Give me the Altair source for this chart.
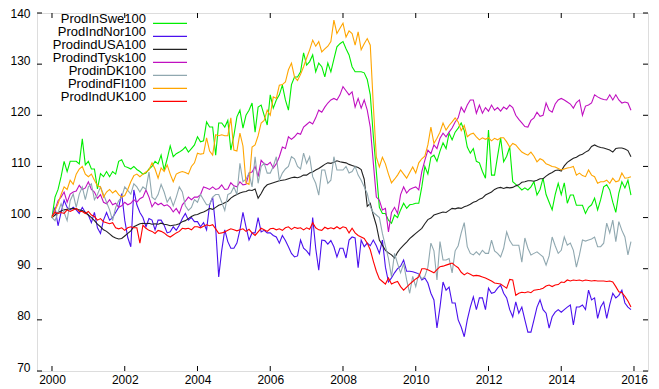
import altair as alt
import pandas as pd

series_names = ["ProdInSwe100", "ProdIndNor100", "ProdindUSA100", "ProdindTysk100",
                "ProdinDK100", "ProdindFI100", "ProdIndUK100"]
series_colors = ["#00ee00", "#4a10ee", "#222222", "#c010c0", "#90a8b0", "#ffa500", "#ff0000"]

start_year = 2000
n_years = 16

swe = [
    100, 104, 105.5, 108, 111, 109, 111, 111, 111, 110.5, 115.4, 110.3,
    111, 109.5, 109.5, 105.6, 108.6, 108, 109, 108, 109, 108.5, 111, 111.3,
    110, 109.8, 109.5, 110, 109.4, 109, 108.5, 108.7, 109.5, 110, 111, 110.5,
    112.2, 109.3, 111.5, 114, 111.9, 112.5, 112.8, 113.2, 113.8, 112.8, 113.5, 114.2,
    115.8, 114.8, 115, 118.7, 117.7, 117.7, 112.2, 118.5, 118.5, 117.7, 119, 113.2,
    116, 119.7, 121, 117.5, 120, 121, 122.4, 116.7, 121.6, 122, 120, 118.1,
    124, 121.4, 123, 124, 125.9, 123, 121, 126, 127.5, 127.5, 128.5, 132.2,
    129.8, 130.5, 131.8, 128.5, 130.2, 129.5, 127.5, 130.2, 128.5, 131, 133.4, 134,
    134.4, 133, 131.8, 129.5, 128.5, 128.5, 128.5, 128.3, 127, 124, 116, 109,
    102, 100.8, 100.8, 99.5, 98.9, 100.5, 100, 101.5, 102.8, 101.8, 102.5, 102.6,
    102.8, 102.8, 106, 110, 108.5, 111.8, 112.2, 111, 113, 114.6, 113.5, 116.5,
    115.2, 116.7, 117.5, 118.5, 117, 113.8, 112.6, 113.5, 111, 110.7, 109, 107.7,
    117.1, 108.3, 108.3, 112, 115.6, 110.9, 112, 113.8, 107, 106.5, 106, 105.4,
    105.8, 105.4, 106, 107, 104.4, 105.5, 107.7, 104.5, 103, 101.5, 104.5, 106.7,
    104.5, 106.8, 102.8, 104.4, 104.4, 102.4, 102.4, 102.4, 100.8, 102, 102.5, 103.8,
    101.5, 103.5, 106, 106.4, 105.4, 103, 101, 104.8, 107, 105.8, 107.3, 104.4,
]

nor = [
    100, 102, 98.4, 101, 103.4, 102, 101.5, 102, 101.5, 100.8, 102, 101,
    100.5, 99, 101, 98, 96.9, 99.5, 101, 99.5, 100, 101, 102, 104.7,
    99.5, 96.1, 94.3, 105.4, 102.5, 101, 100, 98.2, 99.8, 99.5, 97.6, 99.5,
    99.5, 98.5, 97, 97.2, 98.2, 97.5, 98.5, 99.8, 100.8, 99.5, 100, 99.2,
    99.2, 98.2, 99, 97.6, 102.5, 104, 98, 88.4, 93.6, 97.6, 95.3, 94,
    94, 95, 97.6, 101, 98.2, 95.6, 97, 97, 100, 97.2, 97.5, 97,
    97, 96.5, 96.2, 95, 96.5, 95.5, 94.3, 93, 92.3, 92.5, 95.6, 94,
    93.5, 92.7, 100, 94, 89.7, 95.6, 95.5, 94.8, 95.5, 94.3, 92.3, 94,
    94, 92.1, 95.6, 96.2, 96, 90.2, 95.6, 94.3, 95, 94.5, 95.6, 94.5,
    93, 95.6, 90.3, 87.4, 88.2, 89.2, 90, 90.5, 91.7, 89.5, 89.5, 89.4,
    89.2, 89, 87.8, 88.2, 87.2, 85.2, 83.9, 78.4, 82.5, 87.4, 85.8, 86.4,
    83.3, 83.3, 80, 78.6, 76.7, 80, 82.5, 84.5, 82, 84.3, 84.3, 82,
    86.2, 85.2, 85.4, 86.2, 86.8, 85.2, 84.3, 82, 80.6, 83.5, 81.3, 82.5,
    80, 77.6, 77.6, 80, 82.5, 83.9, 82, 81.3, 78.4, 80.6, 81.5, 82,
    81.5, 82, 82.5, 82.9, 79, 82.5, 82.5, 82.9, 82, 85.8, 83.9, 84.3,
    80.3, 82.5, 83.5, 80.3, 83, 85.2, 84.3, 84.8, 85.8, 83.3, 82.5, 82,
]

usa = [
    100, 100.5, 101, 101.3, 101.5, 101.6, 101.7, 101.8, 101.7, 101.5, 101.4, 101,
    100.5, 100, 99.4, 98.7, 98.2, 97.6, 97.3, 96.8, 96.3, 96, 95.8, 95.9,
    96.4, 96.9, 97.4, 98.2, 98.5, 98.8, 98.9, 98.8, 98.9, 98.7, 98.8, 98.7,
    98.9, 98.7, 98.6, 98.4, 98.5, 98.6, 98.8, 99.2, 99.4, 99.8, 100.2, 100.5,
    100.6, 100.9, 101.1, 101.4, 101.8, 101.6, 102, 102.4, 102.6, 102.9, 103.2, 103.8,
    104.2, 104.5, 104.8, 105, 105.1, 105.4, 105.3, 105.6, 103.8, 104.7, 105.8, 106.4,
    106.6, 106.8, 107, 107.2, 107.3, 107.4, 107.6, 107.8, 107.9, 107.8, 108, 108.3,
    108.3, 108.7, 108.9, 109.3, 109.6, 110, 110.4, 110.7, 110.6, 110.8, 111.1, 110.9,
    110.8, 110.7, 110.4, 110.2, 110, 109.8, 109.4, 107.5, 102.2, 102.8, 100.5, 98.5,
    95.6, 94.6, 93.6, 93.1, 92.7, 92.1, 93.2, 94, 94.6, 95.2, 95.9, 96.4,
    96.9, 97.4, 97.9, 98.8, 99.6, 99.9, 100.5, 100.7, 100.9, 101.1, 101, 101.4,
    101.8, 101.7, 101.9, 101.8, 102.1, 102.3, 102.6, 103, 103.2, 103.6, 103.8, 104.4,
    104.7, 105, 105.5, 105.8, 105.9, 105.7, 105.9, 105.8, 105.9, 106.2, 106.4, 106.9,
    107, 107.2, 107.2, 107.1, 107.3, 107.6, 107.6, 108.1, 108.5, 108.8, 109.2, 109.3,
    109.1, 110.1, 110.8, 111.2, 111.6, 111.8, 112.2, 112.4, 112.8, 113.1, 113.9, 114.2,
    113.9, 113.7, 113.6, 113.4, 113.2, 112.8, 113.5, 113.6, 113.6, 113.4, 113.1, 111.9,
]

tysk = [
    100, 101.5, 103.3, 104, 105, 103, 104.6, 105, 105.2, 106.3, 105.5, 105.8,
    107, 105.5, 105, 103.8, 104.5, 103, 102.7, 103.5, 102.5, 102.8, 102, 102.3,
    103, 102.5, 102.8, 103.5, 103, 103.7, 104, 105.4, 104, 102.1, 103, 102.5,
    102.8, 102.3, 102.5, 102, 101.1, 101.8, 100.8, 102.5, 103.2, 104, 103.5, 104,
    104, 104.5, 106, 105.8, 105.5, 106, 105.5, 105.7, 106.4, 105.5, 105.6, 106.8,
    106.2, 106, 107, 106.4, 106.5, 108.7, 108.9, 110, 108, 111.2, 110.5, 110.3,
    110.8, 109.7, 110.5, 111.9, 113.8, 113.5, 115.8, 115.3, 115.8, 116.5, 116.3, 117.7,
    118.2, 118.7, 118.3, 119.5, 121, 120.6, 121.6, 122.4, 123, 123.3, 123, 124,
    125.6, 124.8, 124, 124.6, 121.6, 123.3, 121.4, 123, 121, 117.7, 110.7, 104,
    103.4, 101.5, 101.8, 97.2, 101, 102, 100.8, 104.5, 106, 104.8, 105.5, 105.8,
    106, 105.4, 109, 111.2, 113.2, 112.5, 114.2, 113.5, 115.5, 116.5, 115.8, 116.7,
    117.5, 118.7, 119.5, 121.6, 120.6, 122, 123, 123, 120.4, 122, 120.4, 121.5,
    120.8, 122, 121, 121.5, 120.8, 121.6, 121.2, 122, 121.5, 120, 119.2, 118.5,
    117.8, 117.7, 119, 119.5, 120.6, 119.8, 120, 122.4, 121, 120.6, 122.2, 123,
    123.3, 123, 122.6, 122.2, 121.4, 122.5, 123, 120, 121.8, 122, 122.4, 124,
    123.6, 123.3, 123.1, 123, 124, 123, 124, 123, 122.4, 122.6, 122.4, 121,
]

dk = [
    100, 99.4, 101, 102.7, 101, 99.4, 103.3, 104.6, 102, 104.6, 106, 103.5,
    106, 106.6, 103.5, 104.5, 106, 104.5, 103, 101.5, 99.4, 102, 103.3, 104,
    106, 105.3, 104.6, 106.6, 106, 105, 106, 105.5, 108.9, 104, 103.5, 104.5,
    106.5, 105, 103, 104, 102.3, 104, 106, 105, 102.3, 101.4, 102, 103.5,
    103, 104.5, 103.5, 102.5, 102.5, 104, 104.5, 104.5, 103, 101.4, 104.5, 104.8,
    106, 104.5, 110.6, 107, 107.5, 108.7, 106, 111.9, 106.7, 110, 110.6, 108.7,
    108.7, 110, 111.9, 107.3, 108.7, 109.5, 110, 111.9, 111.5, 110, 109.5, 112.6,
    110.6, 111.9, 108, 106.7, 104.4, 109.3, 109.3, 106.7, 107.3, 111.9, 109.3, 109.3,
    109.3, 110, 108.7, 109, 110, 108.3, 107.3, 106, 104.7, 102.1, 101, 100.5,
    100, 96.9, 94.4, 92, 88.4, 93, 91, 89.2, 91, 87.8, 85.2, 88.5,
    86.5, 89, 88, 88.5, 90.3, 95, 93.5, 87.8, 95.3, 91.7, 91.7, 92,
    89.2, 93.5, 94.5, 97, 99, 94.3, 93, 92.7, 93.3, 92.7, 93.6, 93,
    93, 95.6, 93.5, 93, 92.3, 94, 97.2, 95.5, 94.6, 94.6, 94.6, 91.3,
    96, 94, 92.7, 93, 93.3, 92.8, 92.3, 90.7, 92.5, 96.2, 94.5, 93,
    93.6, 96.2, 94.6, 95, 93.6, 90.3, 92.7, 95.6, 95.4, 95.6, 95.8, 96.2,
    94.3, 94.3, 95, 98.9, 97, 99.5, 95.3, 99.2, 97.5, 96.2, 92.7, 95.3,
]

fi = [
    100, 101.4, 102.7, 104.5, 106, 105.5, 107.3, 106.5, 108.5, 109.5, 110, 108.5,
    108, 108.5, 107.3, 106.2, 106, 104, 105, 105.5, 104.8, 105.3, 104.5, 104,
    104.3, 105.5, 107, 108.2, 108.5, 108, 108.5, 108.9, 109.3, 110.7, 109.5, 107.7,
    109.7, 109, 110.3, 108.5, 107, 108.5, 108.8, 109, 108.8, 108.5, 110, 110.7,
    112.6, 112.4, 112.5, 115.6, 113, 112.2, 116.2, 116, 116.2, 116, 116, 119.5,
    113.2, 113, 116.5, 114, 106.8, 106.5, 113.8, 114.2, 116, 118.5, 119, 121,
    120, 123.6, 123.3, 125.9, 126, 126.5, 128.9, 130.2, 127.5, 126.8, 128, 129.5,
    131.2, 132.8, 134.7, 133.5, 134.4, 132.4, 133, 133.5, 134.4, 138.6, 136, 137,
    138, 135.3, 136.5, 136, 133.7, 136.3, 132.8, 134, 135, 133.7, 122, 111.8,
    109.9, 111.8, 110.5, 108.5, 106.8, 107.5, 108.3, 109.3, 108.5, 107.7, 108.8, 109.9,
    108.7, 110.7, 111.5, 112, 114.2, 117.7, 114.5, 115.5, 116.7, 118.5, 117.1, 118,
    118.7, 119.5, 118.7, 117, 118, 115.8, 116.3, 116.5, 115.8, 115.2, 115.6, 115.3,
    115.6, 115, 115.5, 115.2, 115.6, 115.6, 114.8, 113.8, 114.5, 114.2, 113.5, 112.8,
    112.5, 112.2, 112.8, 112, 110.9, 111.5, 111.2, 110.5, 110.3, 110, 109.9, 109.6,
    109.3, 109.5, 109.7, 109.8, 110, 108.3, 108.7, 108.2, 108, 109.3, 108.3, 108,
    106.7, 107, 107, 107.3, 106.7, 107.7, 107, 107.2, 108.7, 107.7, 107.8, 108,
]

uk = [
    100.3, 101, 100.8, 101, 100.8, 101.5, 101.2, 101.5, 101.8, 101.2, 101.2, 100.8,
    101.2, 100.5, 100.2, 99.5, 99.8, 99.2, 99, 98.8, 99, 98, 97.8, 98,
    97.5, 98, 98.2, 98, 98, 95, 98.5, 97.9, 97.5, 97.3, 96.9, 97.5,
    97.3, 97, 96.5, 96.2, 96.6, 97, 97.3, 97.9, 97.8, 97.9, 97.6, 98.2,
    98.2, 98, 98.3, 98.6, 98.4, 98.6, 97.8, 96.9, 97, 97.2, 97.5, 97.8,
    97.6, 97.4, 97.6, 97.8, 97.3, 97.7, 97, 96.5, 97.2, 97.9, 97.6, 97.3,
    97.8, 97.9, 97.6, 97.8, 97.5, 98, 98.2, 97.7, 98.1, 97.9, 98, 97.6,
    98, 97.7, 99, 98, 97.6, 97.5, 98.1, 97.8, 98, 97.8, 98.2, 97.8,
    98.2, 98, 97, 97.9, 97, 96.5, 96.2, 95.9, 95, 93.7, 91.5, 89.5,
    88, 87.5, 87, 88.2, 87, 87.3, 87.5, 86.5, 85.8, 86.4, 87, 87.5,
    88, 88.4, 90, 90, 89.8, 89.5, 89.2, 89.8, 90.4, 90.5, 90.7, 90.9,
    91.1, 90.6, 90.2, 89.3, 88.8, 89.2, 88.9, 88.6, 88.7, 88.6, 88.4, 88.2,
    87.9, 87.6, 87.2, 87.1, 87, 86.6, 86.2, 87.9, 87.8, 84.8, 85.2, 85.4,
    85.3, 85.5, 85.3, 85.8, 85.9, 86, 86.2, 86.6, 86.8, 86.5, 86.8, 86.9,
    87.4, 87.3, 87.8, 87.6, 87.8, 87.7, 87.8, 87.6, 87.8, 87.7, 87.6, 87.7,
    87.6, 87.6, 87.6, 87.5, 87.6, 87.4, 86.5, 85.5, 85.3, 84.6, 83.7, 82.5,
]

x_ticks = [2000, 2002, 2004, 2006, 2008, 2010, 2012, 2014, 2016]
y_ticks = [70, 80, 90, 100, 110, 120, 130, 140]

all_values = [swe, nor, usa, tysk, dk, fi, uk]
rows = []
for name, vals in zip(series_names, all_values):
    for i, v in enumerate(vals):
        rows.append({"series": name, "t": start_year + i / 12.0, "value": v})
df = pd.DataFrame(rows)

W, H = 611, 358
FONT = "Liberation Sans"

xscale = alt.Scale(domain=[1999.588, 2016.385], nice=False, zero=False)
yscale = alt.Scale(domain=[70, 140], nice=False, zero=False)
cscale = alt.Scale(domain=series_names, range=series_colors)

x_axis = alt.Axis(values=x_ticks, format="d", grid=False, ticks=False, tickSize=0,
                  domain=False, labelFontSize=12, labelFont=FONT, labelColor="black",
                  labelPadding=3, title=None, labelFlush=False)
y_axis = alt.Axis(values=y_ticks, format="d", grid=False, ticks=False, tickSize=0,
                  domain=False, labelFontSize=12, labelFont=FONT, labelColor="black",
                  labelPadding=7,
                  labelBaseline={"condition": {"test": "datum.value >= 140", "value": "middle"},
                                 "value": "alphabetic"},
                  title=None, labelFlush=False)

base = alt.Chart(df)
line_layers = []
for name in series_names:
    line_layers.append(
        base.transform_filter(alt.datum.series == name)
        .mark_line(strokeWidth=1.1, clip=True)
        .encode(x=alt.X("t:Q", scale=xscale, axis=x_axis),
                y=alt.Y("value:Q", scale=yscale, axis=y_axis),
                color=alt.Color("series:N", scale=cscale, legend=None))
    )

xt = alt.Chart(pd.DataFrame({"t": x_ticks}))
yt = alt.Chart(pd.DataFrame({"value": y_ticks}))
tick_len = 5
ticks = [
    xt.mark_rule(color="black", strokeWidth=1).encode(
        x=alt.X("t:Q", scale=xscale, axis=x_axis), y=alt.value(H), y2=alt.value(H - tick_len)),
    xt.mark_rule(color="black", strokeWidth=1).encode(
        x=alt.X("t:Q", scale=xscale, axis=x_axis), y=alt.value(0), y2=alt.value(tick_len)),
    yt.mark_rule(color="black", strokeWidth=1).encode(
        y=alt.Y("value:Q", scale=yscale, axis=y_axis), x=alt.value(0), x2=alt.value(tick_len)),
    yt.mark_rule(color="black", strokeWidth=1).encode(
        y=alt.Y("value:Q", scale=yscale, axis=y_axis), x=alt.value(W - tick_len), x2=alt.value(W)),
]

main = alt.layer(*line_layers, *ticks)

leg_df = pd.DataFrame({"series": series_names, "rank": list(range(len(series_names)))})
leg_scale = alt.Scale(domain=[0, 6], range=[10.3, 88.3], nice=False, zero=False)
leg = alt.Chart(leg_df)
leg_text = leg.mark_text(align="right", baseline="alphabetic", fontSize=13, font=FONT,
                         color="black").encode(
    y=alt.Y("rank:Q", scale=leg_scale, axis=None), x=alt.value(109), text="series:N")
leg_line = leg.mark_rule(strokeWidth=1.3).encode(
    y=alt.Y("rank:Q", scale=leg_scale, axis=None), x=alt.value(116), x2=alt.value(150),
    color=alt.Color("series:N", scale=cscale, legend=None))
legend = alt.layer(leg_text, leg_line)

chart = alt.layer(main, legend).resolve_scale(y="independent").properties(
    width=W, height=H,
    autosize=alt.AutoSizeParams(type="none"),
    padding={"left": 29, "top": 5, "right": 3, "bottom": 17},
).configure_view(stroke="black", strokeWidth=1).configure(background="white")

chart.save("out.html", embed_options={"renderer": "svg", "actions": False})
